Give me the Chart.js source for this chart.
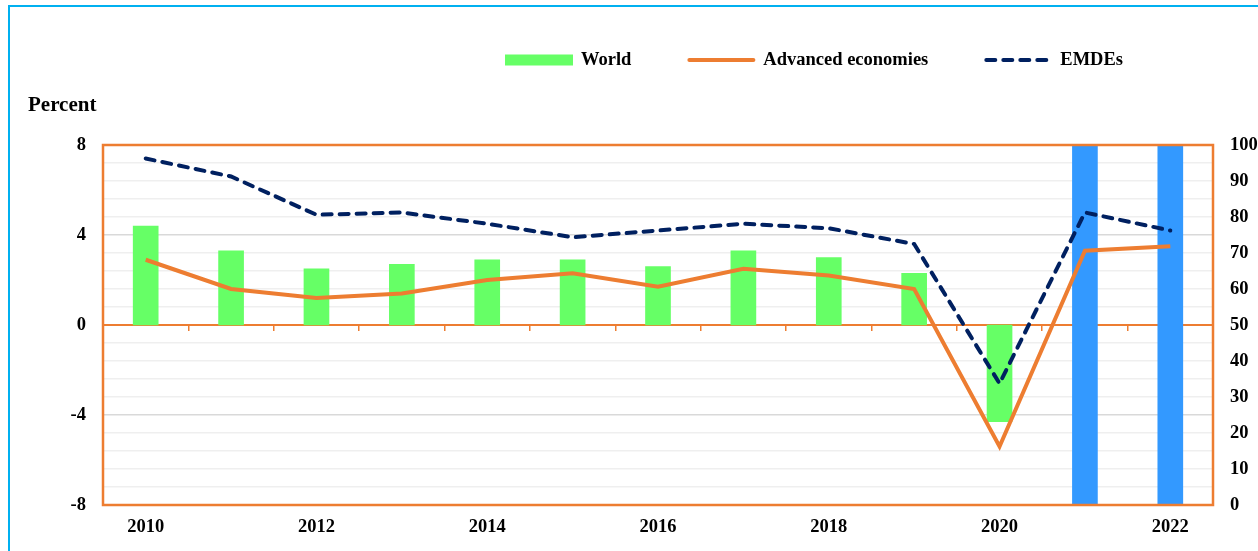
<!DOCTYPE html>
<html>
<head>
<meta charset="utf-8">
<script src="https://cdn.jsdelivr.net/npm/chart.js@4.4.1/dist/chart.umd.min.js"></script>
<style>
html,body{margin:0;padding:0;background:#fff;overflow:hidden;}
#wrap{position:relative;width:1258px;height:551px;}
canvas{position:absolute;left:0;top:0;}
#frame{position:absolute;left:8px;top:5px;width:1300px;height:600px;border-left:2px solid #00B0F0;border-top:2px solid #00B0F0;box-sizing:border-box;pointer-events:none;}
</style>
</head>
<body>
<div id="wrap"><canvas id="c" width="1258" height="551"></canvas><div id="frame"></div></div>
<script>
// ---- data ----
const years = ['2010','2011','2012','2013','2014','2015','2016','2017','2018','2019','2020','2021','2022'];
const worldGrowth    = [4.4, 3.3, 2.5, 2.7, 2.9, 2.9, 2.6, 3.3, 3.0, 2.3, -4.3, null, null];
const advancedGrowth = [2.9, 1.6, 1.2, 1.4, 2.0, 2.3, 1.7, 2.5, 2.2, 1.6, -5.4, 3.3, 3.5];
const emdeGrowth     = [7.4, 6.6, 4.9, 5.0, 4.5, 3.9, 4.2, 4.5, 4.3, 3.6, -2.6, 5.0, 4.2];
const forecastShade  = [null, null, null, null, null, null, null, null, null, null, null, 100, 100];
const seriesNames = ['World', 'Advanced economies', 'EMDEs', 'Forecast'];
const leftAxisTitle = 'Percent';
const leftRange = [-8, 8];
const leftStep = 4;
const rightRange = [0, 100];
const rightLabelStep = 10;
const rightGridStep = 5;

// ---- styles ----
const ORANGE = '#ED7D31';
const NAVY = '#002060';
const GREEN = '#66FF66';
const BLUE = '#3399FF';
const FAMILY = "'Liberation Serif', 'Times New Roman', serif";
const tickFont = {family: FAMILY, size: 18.5, weight: 'bold'};

const overlay = {
  id: 'overlay',
  afterDatasetsDraw(chart) {
    const {ctx, chartArea: a} = chart;
    ctx.save();
    ctx.strokeStyle = ORANGE;
    ctx.lineWidth = 2.5;
    ctx.strokeRect(a.left, a.top, a.right - a.left, a.bottom - a.top);
    ctx.restore();
  },
  afterDraw(chart) {
    const ctx = chart.ctx;
    ctx.save();
    ctx.fillStyle = '#000';
    ctx.textBaseline = 'middle';
    ctx.textAlign = 'left';
    ctx.font = 'bold 21px ' + FAMILY;
    ctx.fillText(leftAxisTitle, 28, 106);
    // legend
    ctx.font = 'bold 18.5px ' + FAMILY;
    let x = 505;
    const y = 60;
    [0, 1, 2].forEach(i => {
      const ds = chart.data.datasets[i];
      if (ds.type === 'line') {
        ctx.strokeStyle = ds.borderColor;
        ctx.lineWidth = ds.borderWidth;
        ctx.lineCap = 'round';
        ctx.setLineDash(ds.borderDash || []);
        ctx.beginPath();
        ctx.moveTo(x + 2, y);
        ctx.lineTo(x + 66, y);
        ctx.stroke();
        ctx.setLineDash([]);
      } else {
        ctx.fillStyle = ds.backgroundColor;
        ctx.fillRect(x, y - 5.5, 68, 11);
      }
      ctx.fillStyle = '#000';
      ctx.fillText(ds.label, x + 76, y);
      x += 76 + ctx.measureText(ds.label).width + 56;
    });
    ctx.restore();
  }
};

new Chart(document.getElementById('c'), {
  type: 'bar',
  data: {
    labels: years,
    datasets: [
      {type: 'bar', label: seriesNames[0], data: worldGrowth, backgroundColor: GREEN, xAxisID: 'x', yAxisID: 'y',
       grouped: false, barThickness: 25, order: 2},
      {type: 'line', label: seriesNames[1], data: advancedGrowth, borderColor: ORANGE, backgroundColor: ORANGE,
       borderWidth: 4, pointRadius: 0, tension: 0, xAxisID: 'x', yAxisID: 'y', order: 0},
      {type: 'line', label: seriesNames[2], data: emdeGrowth, borderColor: NAVY, backgroundColor: NAVY,
       borderWidth: 4, borderDash: [9, 8], borderCapStyle: 'round', pointRadius: 0, tension: 0, xAxisID: 'x', yAxisID: 'y', order: 0},
      {type: 'bar', label: seriesNames[3], data: forecastShade, backgroundColor: BLUE, xAxisID: 'x', yAxisID: 'y2',
       grouped: false, barThickness: 25, order: 1}
    ]
  },
  options: {
    responsive: false,
    animation: false,
    layout: {padding: {top: 145, left: 0, right: 0, bottom: 0}},
    plugins: {legend: {display: false}, tooltip: {enabled: false}, title: {display: false}},
    scales: {
      x: {
        type: 'category', position: 'bottom', offset: true,
        grid: {display: false, drawTicks: false, offset: true},
        border: {display: false},
        ticks: {autoSkip: false, maxRotation: 0, minRotation: 0, padding: 11, color: '#000', font: tickFont,
                callback: (v, i) => (i % 2 === 0 ? years[i] : '')},
        afterFit(s) { s.height = 46; }
      },
      x2: {
        type: 'category', position: {y: 0}, offset: true,
        grid: {offset: true, drawOnChartArea: false, drawTicks: true, tickLength: 5, color: ORANGE, lineWidth: 1.5},
        border: {display: true, color: ORANGE, width: 2},
        ticks: {display: false, autoSkip: false}
      },
      y: {
        position: 'left', min: leftRange[0], max: leftRange[1],
        grid: {display: false, drawTicks: false},
        border: {display: false},
        ticks: {stepSize: leftStep, padding: 17, color: '#000', font: tickFont},
        afterFit(s) { s.width = 103; }
      },
      y2: {
        position: 'right', min: rightRange[0], max: rightRange[1],
        grid: {
          drawTicks: false, lineWidth: 1.5,
          color: c => {
            const v = c.tick.value;
            if (v === 0 || v === 100 || v === 50) return 'rgba(0,0,0,0)';
            if (v === 25 || v === 75) return '#D9D9D9';
            return '#EFEFEF';
          }
        },
        border: {display: false},
        ticks: {stepSize: rightGridStep, autoSkip: false, padding: 17, color: '#000', font: tickFont,
                callback: v => (v % rightLabelStep === 0 ? v : '')},
        afterFit(s) { s.width = 45; }
      }
    }
  },
  plugins: [overlay]
});
</script>
</body>
</html>
